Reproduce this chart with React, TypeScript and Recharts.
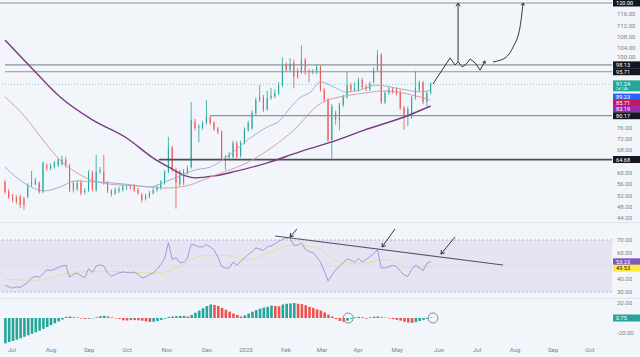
import {
  ComposedChart,
  Bar,
  Line,
  XAxis,
  YAxis,
  ReferenceLine,
  ReferenceArea,
  ReferenceDot,
  Cell,
} from 'recharts';

const UP = '#26a69a';
const DOWN = '#ef5350';
const BG = '#f2f5f9';
const AXIS_TEXT = '#7b808c';
const INK = '#1e222d';
const FONT = 'Roboto, "Noto Sans", sans-serif';

const W = 640;
const AXIS_W = 28;
// bar index runs left to right, month ticks sit between bars
const X_DOMAIN: [number, number] = [-1.32, 159.7];

// candles, one per bar index
const opens = [
  56.7, 53.3, 51.5, 51.2, 51.5, 50.8, 51.5, 55.7, 56.0, 56.4,
  53.2, 62.5, 61.5, 62.0, 62.7, 63.0, 64.6, 62.5, 56.5, 54.2,
  56.7, 53.2, 53.9, 60.0, 53.9, 60.3, 60.3, 56.4, 53.5, 52.8,
  53.5, 54.0, 54.6, 55.0, 55.2, 54.0, 52.2, 50.8, 51.5, 52.8,
  53.9, 54.6, 56.4, 60.3, 68.8, 61.0, 56.0, 60.6, 60.0, 62.0,
  78.0, 75.8, 75.8, 77.6, 79.5, 77.6, 75.5, 74.4, 65.2, 65.5,
  65.6, 70.5, 66.0, 70.5, 75.1, 75.8, 81.1, 85.7, 86.8, 82.5,
  86.5, 87.0, 88.2, 91.0, 98.1, 96.3, 98.8, 96.0, 95.6, 99.9,
  96.0, 95.5, 95.6, 97.4, 89.3, 85.7, 71.6, 81.1, 78.7, 84.0,
  86.8, 91.0, 89.3, 89.3, 92.8, 90.3, 89.5, 92.1, 96.3, 101.6,
  85.0, 88.2, 89.5, 89.5, 88.6, 82.9, 79.7, 79.7, 86.4, 89.3,
  91.8, 85.0, 88.2,
];
const closes = [
  53.3, 51.5, 50.6, 49.8, 48.6, 48.6, 55.7, 56.7, 57.3, 53.2,
  63.5, 61.5, 62.5, 63.5, 64.6, 64.6, 62.5, 53.9, 54.0, 56.4,
  52.8, 53.6, 60.0, 54.2, 60.3, 60.8, 56.4, 53.5, 52.5, 53.8,
  54.2, 55.0, 54.8, 54.8, 53.8, 52.8, 50.4, 51.8, 52.8, 53.9,
  55.0, 56.7, 60.3, 68.8, 61.0, 56.4, 60.3, 56.4, 61.5, 78.7,
  75.8, 76.2, 77.5, 79.7, 77.6, 75.5, 74.4, 65.2, 65.5, 66.5,
  70.5, 65.6, 70.5, 75.1, 77.6, 81.1, 85.7, 86.8, 82.2, 86.5,
  87.2, 88.2, 91.0, 98.1, 96.3, 98.5, 93.9, 93.9, 99.9, 96.0,
  95.5, 95.8, 97.4, 89.3, 85.7, 71.6, 83.3, 78.7, 84.0, 86.8,
  91.0, 89.3, 90.0, 92.8, 90.3, 89.5, 91.5, 96.3, 101.6, 85.0,
  88.2, 89.5, 88.5, 88.0, 82.9, 79.4, 82.5, 86.4, 90.0, 91.8,
  85.0, 88.2, 91.24,
];
const highs = [
  57.5, 54.2, 52.5, 52.0, 52.3, 51.6, 56.3, 60.6, 58.2, 57.0,
  64.0, 63.3, 63.2, 64.2, 65.3, 66.0, 65.7, 63.2, 57.2, 57.4,
  57.5, 54.6, 61.0, 60.7, 66.3, 62.0, 66.3, 57.2, 54.2, 54.8,
  55.0, 56.0, 55.6, 55.8, 56.0, 54.6, 52.9, 52.6, 53.5, 54.6,
  55.7, 57.4, 61.0, 72.7, 69.5, 61.8, 61.0, 61.4, 62.5, 85.0,
  79.0, 77.2, 78.3, 85.7, 80.3, 78.3, 76.2, 75.0, 66.3, 67.3,
  71.3, 71.2, 71.4, 76.0, 78.4, 82.0, 86.6, 91.0, 87.5, 89.0,
  90.0, 89.5, 92.0, 100.8, 99.0, 100.6, 100.0, 97.0, 105.0, 100.6,
  96.8, 96.6, 98.4, 98.0, 90.0, 86.4, 84.2, 81.9, 84.8, 87.6,
  95.6, 91.8, 92.0, 93.6, 93.5, 91.2, 92.3, 97.2, 103.4, 102.3,
  89.0, 90.3, 90.2, 90.2, 89.3, 83.6, 83.3, 87.2, 96.0, 92.6,
  92.5, 89.0, 92.0,
];
const lows = [
  52.5, 50.8, 49.6, 49.0, 47.6, 46.9, 51.0, 55.0, 55.5, 52.6,
  52.8, 60.8, 60.9, 61.4, 62.1, 62.5, 61.8, 53.2, 53.0, 53.6,
  52.0, 52.4, 53.2, 53.5, 53.3, 59.6, 55.8, 52.8, 51.6, 52.2,
  52.9, 53.4, 54.0, 54.1, 53.2, 52.2, 49.6, 50.2, 51.0, 52.3,
  53.4, 54.0, 55.8, 59.8, 60.2, 47.3, 55.2, 55.6, 59.3, 61.5,
  75.0, 70.8, 75.2, 77.0, 76.9, 74.8, 73.6, 64.5, 61.0, 64.8,
  65.0, 65.0, 65.4, 70.0, 74.5, 75.2, 80.5, 85.0, 81.5, 81.9,
  85.8, 86.4, 87.5, 90.4, 95.6, 95.7, 89.8, 93.2, 95.0, 94.6,
  92.0, 94.8, 94.9, 88.6, 84.9, 70.8, 65.0, 77.0, 75.0, 83.3,
  86.1, 88.5, 88.6, 88.7, 89.6, 88.8, 88.9, 91.5, 95.7, 84.2,
  84.3, 87.5, 87.9, 87.3, 82.2, 75.1, 76.5, 79.0, 85.8, 88.6,
  84.2, 83.5, 87.6,
];

// moving averages as [bar index, price]
const maFast = [
  [0, 62.0], [5, 56.4], [10.5, 53.6], [14.5, 55.0], [18.5, 57.1], [25, 56.7],
  [31.5, 56.0], [38, 55.0], [42, 56.7], [46, 58.9], [50, 61.0], [54, 62.0],
  [59, 66.3], [64.5, 72.3], [68.5, 75.8], [72.5, 78.7], [75, 82.9], [77.5, 86.4],
  [80.5, 88.6], [83, 92.1], [87, 90.0], [89.5, 88.6], [93.5, 89.3], [97.5, 91.0],
  [100, 90.7], [102.5, 90.0], [105.5, 89.3], [109, 88.6], [112, 89.2],
];
const maMid = [
  [0, 86.8], [5.3, 79.7], [10, 71.6], [14.5, 64.5], [18.5, 60.3], [22.5, 57.5],
  [27.5, 56.0], [35.5, 55.3], [42, 54.6], [47.5, 55.3], [54, 58.5], [65, 64.5],
  [76, 75.1], [83, 84.5], [87, 86.5], [91, 87.5], [95, 88.2], [99, 88.9],
  [103, 88.6], [107, 87.5], [112, 85.7],
];
const maSlow = [
  [0, 106.9], [7.5, 96.3], [14.5, 86.8], [23, 78.7], [32, 72.3], [39, 65.2],
  [43.5, 61.7], [47.5, 58.9], [50, 58.2], [55, 58.9], [60, 60.3], [69, 63.5],
  [77.5, 67.4], [86, 70.9], [94.5, 75.1], [105, 79.7], [112, 83.6],
];

// hand drawn projection
const wavePath = [
  [112.6, 91.4], [117.1, 100.6], [118.4, 98.1], [119.2, 99.2], [120.3, 97.4],
  [121.1, 98.1], [122.4, 100.2], [123.7, 98.8], [125, 96.3], [126.3, 99.5],
];
const curvePath = [[128.4, 99.2], [131.6, 100.6], [133.7, 104.5], [135.5, 111.5], [136.3, 120]];

// horizontal levels: price and the bar index where the drawing starts
const levelPrices = [120, 98.13, 95.71, 80.17, 64.68];
const levelStarts = [-1.32, 0, 0, 54, 40.5];
const priceTicks = [44, 48, 52, 56, 60, 68, 72, 76, 100, 104, 108, 112, 116];

const rsi = [
  35.4, 34, 33, 34, 33.5, 35.5, 37.5, 41, 42, 41.5,
  44, 47, 46.5, 47.5, 49, 50, 50.5, 41.5, 43.5, 44.5,
  42.5, 41, 48, 45, 50, 51, 50, 44.5, 42, 43.5,
  44.8, 45.4, 45, 44.8, 45.3, 43.5, 41, 41.5, 43.5, 44.6,
  47.5, 51, 56, 68, 55, 56.5, 52.5, 53, 56, 67,
  66, 64.8, 64.6, 66.5, 64.5, 62.5, 57, 49.5, 48.5, 48.5,
  53, 50.8, 53.5, 56, 59, 61, 64, 63, 62, 64.8,
  65.5, 67, 69, 70.5, 71.5, 71.5, 66, 66, 68, 63,
  61, 60.5, 57, 53, 46, 38.5, 43, 47, 50, 52.5,
  55.5, 54.5, 53, 56, 53, 55, 57, 59.5, 62.5, 48.5,
  48.5, 49.5, 50.5, 49.5, 46, 43, 42, 47.5, 50.8, 48.5,
  46.5, 52, 53.5,
];
const rsiMa = [
  [0, 40], [8, 39], [16, 44], [24, 46], [32, 45.5], [40, 44.5], [46, 50], [52, 58],
  [58, 58], [64, 55], [70, 61], [76, 66], [82, 64], [88, 53], [94, 52], [100, 55],
  [106, 49], [112, 49.5],
];
const rsiTrend = [[71.1, 73.1], [131, 50.8]];
// arrows: [tail, tip]
const rsiArrows = [
  [[76.8, 78.5], [75, 72.3]],
  [[102.6, 78.5], [99.2, 64.6]],
  [[118.4, 72.3], [114.7, 59.2]],
];

const hist = [
  -33.7, -32, -30.5, -29, -27, -25, -23, -21, -19, -17,
  -14.5, -12, -9.5, -7, -4.5, -2, 1.5, 2, 1, 0.8,
  -0.8, -1.3, -1, -0.5, 1, 2.5, 3, 2, 0.8, -0.5,
  -1.2, -3, -3.2, -2.5, -2.8, -3, -3.5, -4.5, -5.3, -5.0,
  -4, -2.5, -1, 1.5, 2, 2.5, 2.8, 3, 2, 4,
  7, 10, 13, 16, 18, 17.5, 16, 13.5, 11, 8.5,
  6, 4, 2, 3.5, 6, 8.5, 10.5, 12.5, 14, 15,
  16.5, 16, 15.5, 18, 19, 19.5, 20, 19, 18.5, 17,
  15, 13.5, 11.5, 10, 7.5, 4.5, 2, -1.5, -4, -5,
  -3.5, -1, 1, 1.5, 1, -1, 1, 1.8, 2, 1,
  0.5, -0.8, -1.5, -2.5, -3.5, -5, -6, -6.5, -5.5, -4,
  -2.5, -1.2, 0.75,
];
const histCircles = [90.3, 112.6];

const monthTicks = [1.8, 12.1, 22.1, 32.1, 42.6, 53.2, 63.4, 73.9, 83.4, 92.9, 103.2, 114.2, 124.2, 134.2, 144.2, 153.9];
const monthLabels = ['Jul', 'Aug', 'Sep', 'Oct', 'Nov', 'Dec', '2023', 'Feb', 'Mar', 'Apr', 'May', 'Jun', 'Jul', 'Aug', 'Sep', 'Oct'];

const candles = opens.map((o, i) => ({ i, open: o, close: closes[i], high: highs[i], low: lows[i] }));
const rsiData = rsi.map((v, i) => ({ i, rsi: v }));
const macdData = hist.map((h, i) => ({ i, h }));
const toPts = (arr: number[][]) => arr.map(([i, v]) => ({ i, v }));

const tickStyle = { fontSize: 6, fill: AXIS_TEXT, fontFamily: FONT };
const noMargin = { top: 0, right: 0, bottom: 0, left: 0 };

const Candle = (props: any) => {
  const { x, y, width, height, payload } = props;
  const { open, close, high, low } = payload;
  const span = high - low || 1;
  const toY = (v: number) => y + ((high - v) / span) * height;
  const color = close >= open ? UP : DOWN;
  const cx = x + width / 2;
  const top = toY(Math.max(open, close));
  const bot = toY(Math.min(open, close));
  return (
    <g>
      <line x1={cx} x2={cx} y1={y} y2={y + height} stroke={color} strokeWidth={0.8} />
      <rect x={x} y={top} width={width} height={Math.max(bot - top, 0.8)} fill={color} />
    </g>
  );
};

// price scale labels; 100.00 is nudged up where the level tags crowd it
const PriceTick = (p: any) => {
  const { x, y, payload } = p;
  const dy = payload.value === 100 ? -2.5 : 0;
  return (
    <text x={x} y={y + dy} dy={2.1} textAnchor="start" fontSize={6} fill={AXIS_TEXT} fontFamily={FONT}>
      {Number(payload.value).toFixed(2)}
    </text>
  );
};

function headPath(x: number, y: number, ang: number, len = 4) {
  const a1 = ang + Math.PI * 0.82;
  const a2 = ang - Math.PI * 0.82;
  return `M${x + len * Math.cos(a1)},${y + len * Math.sin(a1)} L${x},${y} L${x + len * Math.cos(a2)},${y + len * Math.sin(a2)}`;
}

const ArrowLine = (p: any) => {
  const { x1, y1, x2, y2 } = p;
  const ang = Math.atan2(y2 - y1, x2 - x1);
  return (
    <g>
      <line x1={x1} y1={y1} x2={x2} y2={y2} stroke={INK} strokeWidth={0.9} />
      <path d={headPath(x2, y2, ang)} fill="none" stroke={INK} strokeWidth={0.9} />
    </g>
  );
};

function badge(text: string, fill: string, textColor = '#ffffff', dy = 0) {
  return (props: any) => {
    const vb = props.viewBox || {};
    const x = (vb.x ?? 0) + (vb.width ?? 0);
    const y = (vb.y ?? 0) + dy;
    return (
      <g>
        <rect x={x + 1} y={y - 3.5} width={AXIS_W} height={7} fill={fill} />
        <text x={x + 4} y={y + 2} fontSize={5.6} fill={textColor} fontFamily={FONT}>
          {text}
        </text>
      </g>
    );
  };
}

const lastPrice = closes[closes.length - 1];

const PriceBadge = (props: any) => {
  const vb = props.viewBox || {};
  const x = (vb.x ?? 0) + (vb.width ?? 0);
  const y = vb.y ?? 0;
  return (
    <g>
      <rect x={x + 1} y={y - 4} width={AXIS_W} height={11} fill={UP} />
      <text x={x + 4} y={y + 2} fontSize={5.6} fill="#fff" fontFamily={FONT}>{lastPrice.toFixed(2)}</text>
      <text x={x + 4} y={y + 6} fontSize={4} fill="#e6fffb" fontFamily={FONT}>2d 14h</text>
    </g>
  );
};

const curveEnd = (p: any) => {
  if (p.index !== curvePath.length - 1) return <g key={p.index} />;
  return <path key={p.index} d={headPath(p.cx, p.cy, -Math.PI / 2 + 0.1, 3)} fill="none" stroke={INK} strokeWidth={0.9} />;
};
const waveEnd = (p: any) => {
  if (p.index !== wavePath.length - 1) return <g key={p.index} />;
  return <path key={p.index} d={headPath(p.cx, p.cy, -Math.PI / 3, 3)} fill="none" stroke={INK} strokeWidth={0.9} />;
};

export default function App() {
  return (
    <div style={{ position: 'absolute', left: 0, top: 0, width: W, height: 357, background: BG, overflow: 'hidden' }}>
      {/* price pane */}
      <div style={{ position: 'absolute', left: 0, top: 0 }}>
        <ComposedChart width={W} height={222} data={candles} margin={noMargin}>
          <XAxis dataKey="i" type="number" domain={X_DOMAIN} allowDataOverflow hide />
          <YAxis
            orientation="right"
            width={AXIS_W}
            domain={[42.6, 121.06]}
            allowDataOverflow
            ticks={priceTicks}
            interval={0}
            axisLine={false}
            tickLine={false}
            tickSize={0}
            tickMargin={5}
            tick={PriceTick}
          />
          {levelPrices.map((p, k) => (
            <ReferenceLine
              key={`lv${k}`}
              segment={[{ x: levelStarts[k], y: p }, { x: X_DOMAIN[1], y: p }]}
              stroke={p === 64.68 ? '#4a4e57' : '#8e929b'}
              strokeWidth={p === 64.68 ? 1.8 : 1.2}
              ifOverflow="visible"
              label={badge(p.toFixed(2), '#131722')}
            />
          ))}
          <ReferenceLine y={lastPrice} stroke={UP} strokeOpacity={0.45} strokeDasharray="1 2" label={PriceBadge} />
          <Line data={toPts(maSlow)} dataKey="v" type="monotone" stroke="#7a3a86" strokeWidth={1.4} dot={false} activeDot={false} isAnimationActive={false} />
          <Line data={toPts(maMid)} dataKey="v" type="monotone" stroke="#c99aa5" strokeWidth={0.9} dot={false} activeDot={false} isAnimationActive={false} />
          <Line data={toPts(maFast)} dataKey="v" type="monotone" stroke="#98a9cd" strokeWidth={0.9} dot={false} activeDot={false} isAnimationActive={false} />
          <Bar dataKey={(d: any) => [d.low, d.high]} shape={Candle} barSize={2.6} isAnimationActive={false} />
          <Line data={toPts(wavePath)} dataKey="v" type="linear" stroke={INK} strokeWidth={0.9} dot={waveEnd} activeDot={false} isAnimationActive={false} />
          <Line data={toPts(curvePath)} dataKey="v" type="monotone" stroke={INK} strokeWidth={0.9} dot={curveEnd} activeDot={false} isAnimationActive={false} />
          <ReferenceLine segment={[{ x: 119.2, y: 99.2 }, { x: 119.2, y: 120 }]} shape={ArrowLine} ifOverflow="visible" />
          <ReferenceLine y={89.23} stroke="none" label={badge('89.23', '#2962ff', '#fff', 7)} />
          <ReferenceLine y={85.71} stroke="none" label={badge('85.71', '#c2185b', '#fff', 3)} />
          <ReferenceLine y={83.19} stroke="none" label={badge('83.19', '#9c27b0', '#fff', 1.5)} />
        </ComposedChart>
      </div>

      <div style={{ position: 'absolute', left: 0, top: 222, width: W, height: 1, background: '#e1e4ea' }} />

      {/* RSI pane */}
      <div style={{ position: 'absolute', left: 0, top: 222 }}>
        <ComposedChart width={W} height={76} data={rsiData} margin={noMargin}>
          <XAxis dataKey="i" type="number" domain={X_DOMAIN} allowDataOverflow hide />
          <YAxis
            orientation="right"
            width={AXIS_W}
            domain={[25.4, 83.85]}
            allowDataOverflow
            ticks={[30, 40, 60, 70]}
            interval={0}
            tickFormatter={(v: number) => v.toFixed(2)}
            axisLine={false}
            tickLine={false}
            tickSize={0}
            tickMargin={5}
            tick={tickStyle}
          />
          <ReferenceArea y1={30} y2={70} fill="#e6e4f3" fillOpacity={1} stroke="none" />
          <ReferenceLine y={70} stroke="#a9a6c2" strokeDasharray="2 2" strokeWidth={0.8} />
          <ReferenceLine y={50} stroke="#c9c6dc" strokeDasharray="2 2" strokeWidth={0.6} />
          <ReferenceLine y={30} stroke="#a9a6c2" strokeDasharray="2 2" strokeWidth={0.8} />
          <Line data={toPts(rsiMa)} dataKey="v" type="monotone" stroke="#e6dc9a" strokeWidth={0.9} dot={false} activeDot={false} isAnimationActive={false} />
          <Line dataKey="rsi" type="linear" stroke="#9a8fd8" strokeWidth={0.9} dot={false} activeDot={false} isAnimationActive={false} />
          <ReferenceLine
            segment={rsiTrend.map(([x, y]) => ({ x, y }))}
            stroke="#50545e"
            strokeWidth={1.1}
            ifOverflow="visible"
          />
          {rsiArrows.map((a, k) => (
            <ReferenceLine key={`ar${k}`} segment={a.map(([x, y]) => ({ x, y }))} shape={ArrowLine} ifOverflow="visible" />
          ))}
          <ReferenceLine y={53.23} stroke="none" label={badge('53.23', '#7e57c2')} />
          <ReferenceLine y={49.53} stroke="none" label={badge('49.53', '#ffeb3b', '#131722', 1.5)} />
        </ComposedChart>
      </div>

      <div style={{ position: 'absolute', left: 0, top: 298, width: W, height: 1, background: '#e1e4ea' }} />

      {/* histogram pane with time axis */}
      <div style={{ position: 'absolute', left: 0, top: 298 }}>
        <ComposedChart width={W} height={59} data={macdData} margin={noMargin}>
          <XAxis
            dataKey="i"
            type="number"
            domain={X_DOMAIN}
            allowDataOverflow
            ticks={monthTicks}
            interval={0}
            tickFormatter={(v: number) => monthLabels[monthTicks.indexOf(v)] ?? ''}
            axisLine={false}
            tickLine={false}
            tickSize={0}
            tickMargin={3}
            height={12}
            tick={tickStyle}
          />
          <YAxis
            orientation="right"
            width={AXIS_W}
            domain={[-36, 26.7]}
            allowDataOverflow
            ticks={[-20, 20]}
            interval={0}
            tickFormatter={(v: number) => v.toFixed(2)}
            axisLine={false}
            tickLine={false}
            tickSize={0}
            tickMargin={5}
            tick={tickStyle}
          />
          <Bar dataKey="h" barSize={2.6} isAnimationActive={false}>
            {macdData.map((d, k) => (
              <Cell key={k} fill={k === 0 || d.h >= hist[k - 1] ? UP : DOWN} />
            ))}
          </Bar>
          {histCircles.map((cx, k) => (
            <ReferenceDot key={`c${k}`} x={cx} y={0} r={5} fill="rgba(0,0,0,0)" stroke="#8a8e98" strokeWidth={1} />
          ))}
          <ReferenceLine y={0} stroke="none" label={badge('0.75', UP)} />
        </ComposedChart>
      </div>
    </div>
  );
}
